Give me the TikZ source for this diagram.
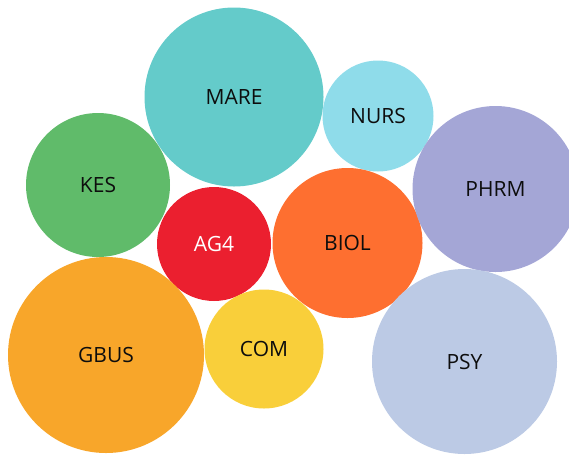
\documentclass[tikz,border=0pt]{standalone}
\usepackage{fontspec}
\setmainfont{Open Sans}
\definecolor{mareclr}{HTML}{64CBCA}
\definecolor{nursclr}{HTML}{8FDCEA}
\definecolor{kesclr}{HTML}{60BB6A}
\definecolor{agclr}{HTML}{EB1F2F}
\definecolor{biolclr}{HTML}{FE6F30}
\definecolor{phrmclr}{HTML}{A4A6D6}
\definecolor{gbusclr}{HTML}{F8A62A}
\definecolor{comclr}{HTML}{F9CF3A}
\definecolor{psyclr}{HTML}{BCCAE5}
\definecolor{labelclr}{HTML}{0D0D0D}
\begin{document}
\begin{tikzpicture}[x=1pt, y=-1pt,
    bubble/.style={circle, inner sep=0pt, text=labelclr,
    font=\fontsize{21}{24}\selectfont}]
            \useasboundingbox (0,0) rectangle (569,456);
            \clip (0,0) rectangle (569,456);
            \node[bubble, fill=mareclr, minimum size=179pt] (mare) at (234,97) {MARE};
            \node[bubble, fill=nursclr, minimum size=111pt] (nurs) at (378,116) {NURS};
            \node[bubble, fill=kesclr, minimum size=144pt] (kes) at (98,185) {KES};
            \node[bubble, fill=agclr, minimum size=114pt, text=white] (ag) at (214,244) {AG4};
            \node[bubble, fill=biolclr, minimum size=150pt] (biol) at (347.5,243) {BIOL};
            \node[bubble, fill=phrmclr, minimum size=166pt] (phrm) at (495.5,189) {PHRM};
            \node[bubble, fill=gbusclr, minimum size=196pt] (gbus) at (106,355) {GBUS};
            \node[bubble, fill=comclr, minimum size=119pt] (com) at (264,349) {COM};
            \node[bubble, fill=psyclr, minimum size=185pt] (psy) at (464.5,361.5) {PSY};
        \end{tikzpicture}
\end{document}
